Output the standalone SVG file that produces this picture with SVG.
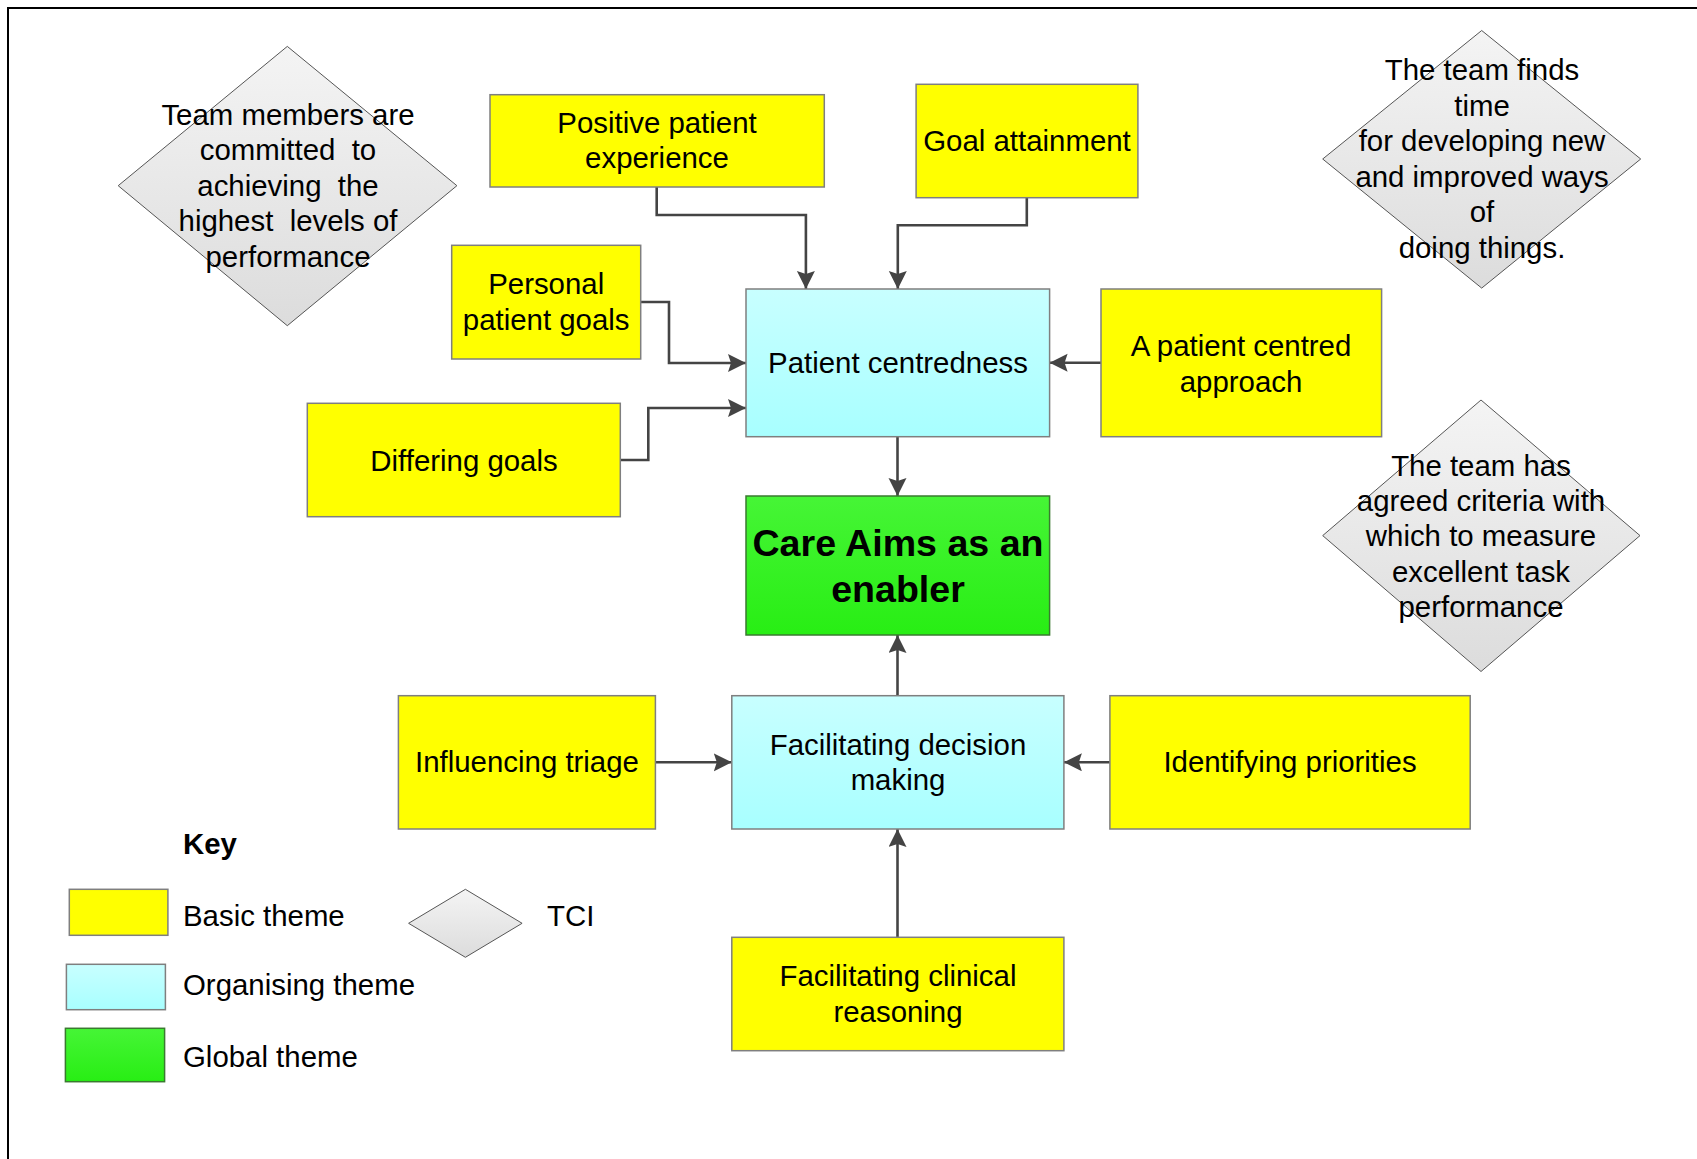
<svg xmlns="http://www.w3.org/2000/svg" width="1697" height="1159" viewBox="0 0 1697 1159">
  <style>
    text { font-family: "Liberation Sans", Arial, sans-serif; font-size: 29.4px; fill: #000; text-anchor: middle; }
    .left { text-anchor: start; }
    .bold { font-weight: bold; }
    .big { font-weight: bold; font-size: 37.6px; }
    .pre { white-space: pre; }
    .basic { fill: #ffff00; stroke: #7f7f7f; stroke-width: 1.5; }
    .organising { fill: url(#gradCyan); stroke: #7f7f7f; stroke-width: 1.5; }
    .global { fill: url(#gradGreen); stroke: #3a7a30; stroke-width: 1.5; }
    .tci { fill: url(#gradGrey); stroke: #555; stroke-width: 1; }
    .conn { fill: none; stroke: #444; stroke-width: 2.6; marker-end: url(#arrow); }
  </style>
  <defs>
    <linearGradient id="gradCyan" x1="0" y1="0" x2="0" y2="1">
      <stop offset="0" stop-color="#c8ffff"/>
      <stop offset="1" stop-color="#a8ffff"/>
    </linearGradient>
    <linearGradient id="gradGreen" x1="0" y1="0" x2="0" y2="1">
      <stop offset="0" stop-color="#46f536"/>
      <stop offset="1" stop-color="#28ee14"/>
    </linearGradient>
    <linearGradient id="gradGrey" x1="0" y1="0" x2="0" y2="1">
      <stop offset="0" stop-color="#f4f4f4"/>
      <stop offset="1" stop-color="#dcdcdc"/>
    </linearGradient>
    <marker id="arrow" markerUnits="userSpaceOnUse" markerWidth="20" markerHeight="19" refX="18" refY="9" orient="auto">
      <path d="M0,0 L18,9 L0,18 L3,9 z" fill="#444"/>
    </marker>
  </defs>

  <rect width="1697" height="1159" fill="#fff"/>
  <!-- page frame -->
  <rect x="8" y="8" width="1700" height="1160" fill="none" stroke="#000" stroke-width="2"/>

  <!-- connectors -->
  <g id="connectors">
    <path class="conn" d="M656.7,187 V215 H805.9 V289"/>
    <path class="conn" d="M1026.8,197.7 V225.3 H897.8 V289"/>
    <path class="conn" d="M640.7,302 H669 V363 H746"/>
    <path class="conn" d="M620.3,460 H648.3 V408 H746"/>
    <path class="conn" d="M1101,362.7 H1049.6"/>
    <path class="conn" d="M897.5,436.7 V496"/>
    <path class="conn" d="M897.5,695.7 V635"/>
    <path class="conn" d="M655.4,762.3 H731.8"/>
    <path class="conn" d="M1109.9,762.3 H1063.9"/>
    <path class="conn" d="M897.5,937.3 V829"/>
  </g>

  <!-- TCI diamonds -->
  <g id="tci-commitment">
    <polygon class="tci" points="287.3,46.4 456.9,185.7 287.3,325.7 118.2,185.7"/>
    <text x="288" y="125">Team members are</text>
    <text class="pre" x="288" y="160.4">committed  to</text>
    <text class="pre" x="288" y="195.8">achieving  the</text>
    <text class="pre" x="288" y="231.2">highest  levels of</text>
    <text x="288" y="266.6">performance</text>
  </g>
  <g id="tci-innovation">
    <polygon class="tci" points="1481.7,30.5 1640.7,159 1481.7,288.1 1322.7,159"/>
    <text x="1482" y="80.2">The team finds</text>
    <text x="1482" y="115.7">time</text>
    <text x="1482" y="151.2">for developing new</text>
    <text x="1482" y="186.7">and improved ways</text>
    <text x="1482" y="222.2">of</text>
    <text x="1482" y="257.7">doing things.</text>
  </g>
  <g id="tci-criteria">
    <polygon class="tci" points="1481,400 1640,535.6 1481,671.5 1322.7,535.6"/>
    <text x="1481" y="475.5">The team has</text>
    <text x="1481" y="510.9">agreed criteria with</text>
    <text x="1481" y="546.3">which to measure</text>
    <text x="1481" y="581.7">excellent task</text>
    <text x="1481" y="617.1">performance</text>
  </g>

  <!-- basic themes -->
  <g id="positive-patient-experience">
    <rect class="basic" x="490" y="94.7" width="334.3" height="92.3"/>
    <text x="657" y="132.5">Positive patient</text>
    <text x="657" y="168">experience</text>
  </g>
  <g id="goal-attainment">
    <rect class="basic" x="916.1" y="84.3" width="221.8" height="113.4"/>
    <text x="1027" y="150.5">Goal attainment</text>
  </g>
  <g id="personal-patient-goals">
    <rect class="basic" x="451.7" y="245.3" width="189" height="113.7"/>
    <text x="546.2" y="294.3">Personal</text>
    <text x="546.2" y="329.8">patient goals</text>
  </g>
  <g id="differing-goals">
    <rect class="basic" x="307.3" y="403.3" width="313" height="113.4"/>
    <text x="464" y="470.5">Differing goals</text>
  </g>
  <g id="patient-centred-approach">
    <rect class="basic" x="1101" y="289" width="280.6" height="147.7"/>
    <text x="1241" y="356">A patient centred</text>
    <text x="1241" y="391.5">approach</text>
  </g>
  <g id="influencing-triage">
    <rect class="basic" x="398.4" y="695.7" width="257" height="133.3"/>
    <text x="527" y="772">Influencing triage</text>
  </g>
  <g id="identifying-priorities">
    <rect class="basic" x="1109.9" y="695.7" width="360.3" height="133.3"/>
    <text x="1290" y="772">Identifying priorities</text>
  </g>
  <g id="facilitating-clinical-reasoning">
    <rect class="basic" x="731.8" y="937.3" width="332.1" height="113.4"/>
    <text x="898" y="986">Facilitating clinical</text>
    <text x="898" y="1021.5">reasoning</text>
  </g>

  <!-- organising themes -->
  <g id="patient-centredness">
    <rect class="organising" x="746" y="289" width="303.6" height="147.7"/>
    <text x="898" y="373">Patient centredness</text>
  </g>
  <g id="facilitating-decision-making">
    <rect class="organising" x="731.8" y="695.7" width="332.1" height="133.3"/>
    <text x="898" y="754.5">Facilitating decision</text>
    <text x="898" y="790">making</text>
  </g>

  <!-- global theme -->
  <g id="care-aims">
    <rect class="global" x="746" y="496" width="303.6" height="139"/>
    <text class="big" x="898" y="555.5">Care Aims as an</text>
    <text class="big" x="898" y="601.5">enabler</text>
  </g>

  <!-- key -->
  <g id="key">
    <text class="left bold" x="183" y="854.3">Key</text>
    <rect class="basic" x="69.3" y="889.3" width="98.6" height="46"/>
    <text class="left" x="183" y="926">Basic theme</text>
    <rect class="organising" x="66.4" y="964.3" width="99" height="45.4"/>
    <text class="left" x="183" y="995.3">Organising theme</text>
    <rect class="global" x="65.4" y="1028.3" width="99.2" height="53.4"/>
    <text class="left" x="183" y="1066.7">Global theme</text>
    <polygon class="tci" points="465.4,889.3 522.1,923.3 465.4,957.3 408.6,923.3"/>
    <text class="left" x="547" y="926">TCI</text>
  </g>
</svg>
